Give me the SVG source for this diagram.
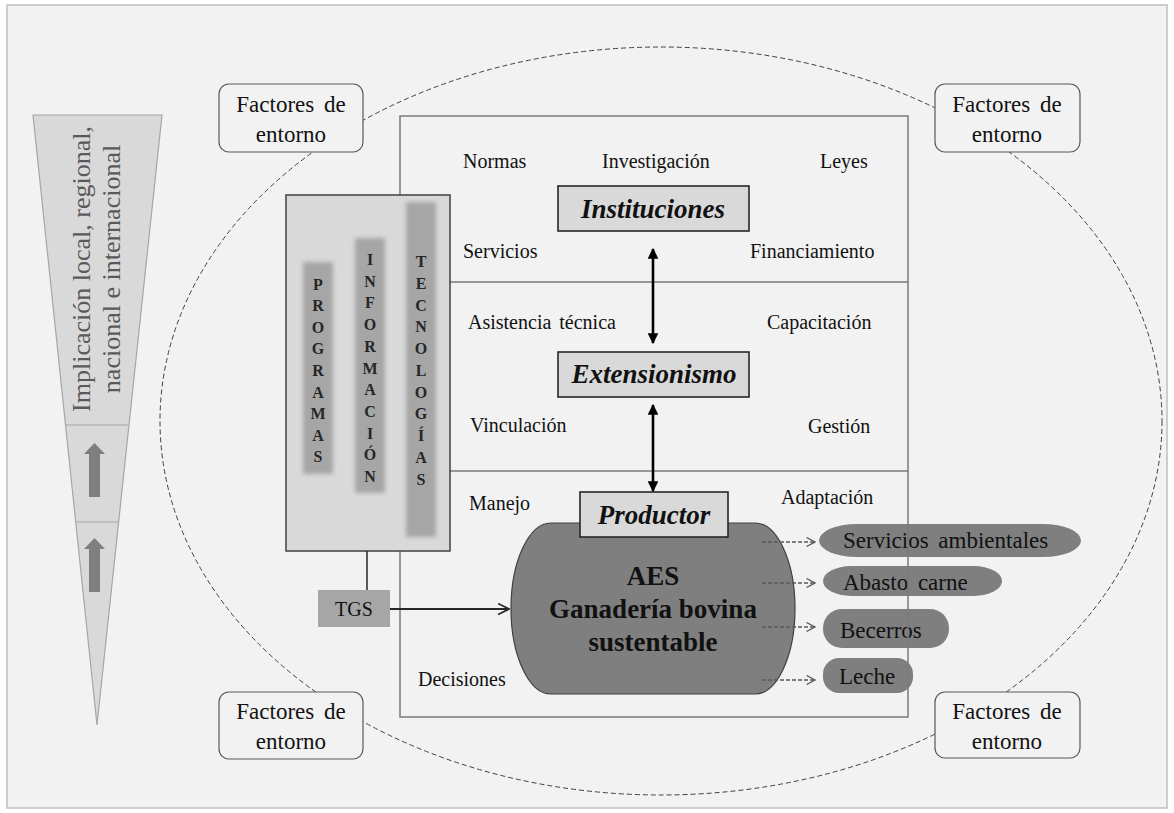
<svg xmlns="http://www.w3.org/2000/svg" width="1174" height="813" viewBox="0 0 1174 813">
  <style>
    text { font-family: 'Liberation Serif', 'Tinos', 'DejaVu Serif', 'Noto Serif', 'Times New Roman', Times, serif; }
    .lbl { font-size: 20px; fill: #111; }
    .fac { font-size: 23px; fill: #111; text-anchor: middle; word-spacing: 4px; }
    .facbox { fill: #f2f2f2; stroke: #595959; stroke-width: 1.2; }
    .title { font-size: 27px; font-weight: bold; font-style: italic; fill: #111; text-anchor: middle; }
    .tbox { fill: #d9d9d9; stroke: #262626; stroke-width: 1.6; }
    .bar { fill: #a6a6a6; filter: url(#soft); }
    .vlet { font-size: 16px; font-weight: bold; fill: #262626; text-anchor: middle; }
    .pill { fill: #7f7f7f; }
    .out { font-size: 23px; fill: #111; word-spacing: 4px; }
    .frame { fill: none; stroke: #7a7a7a; stroke-width: 1.5; }
    .dbl { stroke: #000; stroke-width: 2.6; fill: none; }
    .dash { stroke: #595959; stroke-width: 1.3; stroke-dasharray: 4 2; fill: none; }
  </style>
  <defs>
    <filter id="soft" x="-30%" y="-10%" width="160%" height="120%">
      <feGaussianBlur stdDeviation="2"/>
    </filter>
    <marker id="solidHead" viewBox="0 0 10 10" refX="9" refY="5" markerWidth="4.2" markerHeight="4.2" orient="auto-start-reverse" markerUnits="strokeWidth">
      <path d="M0,0 L10,5 L0,10 Z" fill="#000"/>
    </marker>
    <marker id="openHead" viewBox="0 0 10 10" refX="9.5" refY="5" markerWidth="10" markerHeight="10" orient="auto" markerUnits="userSpaceOnUse">
      <path d="M1,0.5 L9.5,5 L1,9.5" fill="none" stroke="#595959" stroke-width="1.3"/>
    </marker>
    <marker id="openHeadDark" viewBox="0 0 12 12" refX="11" refY="6" markerWidth="13" markerHeight="13" orient="auto" markerUnits="userSpaceOnUse">
      <path d="M1,1 L11,6 L1,11" fill="none" stroke="#262626" stroke-width="1.6"/>
    </marker>
  </defs>

  <!-- page background -->
  <rect x="7" y="5" width="1160" height="803" fill="#f2f2f2" stroke="#bfbfbf" stroke-width="1.5"/>

  <!-- dashed environment boundary -->
  <ellipse cx="661" cy="421" rx="501" ry="374" fill="none" stroke="#404040" stroke-width="1" stroke-dasharray="5 3"/>

  <!-- scale wedge -->
  <g id="scale-wedge">
    <polygon points="33,115 162,115 97,725" fill="#d9d9d9" stroke="#a6a6a6" stroke-width="1.2"/>
    <line x1="66" y1="425" x2="128" y2="425" stroke="#a6a6a6" stroke-width="1.2"/>
    <line x1="76" y1="522" x2="118" y2="522" stroke="#a6a6a6" stroke-width="1.2"/>
    <polygon points="94.5,443 105,454 100,454 100,497 89,497 89,454 84,454" fill="#7f7f7f"/>
    <polygon points="94.5,538 105,549 100,549 100,592 89,592 89,549 84,549" fill="#7f7f7f"/>
    <text font-size="26" fill="#595959" text-anchor="middle" transform="translate(90,269) rotate(-90)">Implicación local, regional,</text>
    <text font-size="26" fill="#595959" text-anchor="middle" transform="translate(120,269) rotate(-90)">nacional e internacional</text>
  </g>

  <!-- environment factor boxes -->
  <g id="factores-nw">
    <rect class="facbox" x="219" y="84" width="144" height="68" rx="10"/>
    <text class="fac" x="291" y="112">Factores de</text>
    <text class="fac" x="291" y="142">entorno</text>
  </g>
  <g id="factores-ne">
    <rect class="facbox" x="935" y="84" width="145" height="68" rx="10"/>
    <text class="fac" x="1007" y="112">Factores de</text>
    <text class="fac" x="1007" y="142">entorno</text>
  </g>
  <g id="factores-sw">
    <rect class="facbox" x="219" y="692" width="144" height="67" rx="10"/>
    <text class="fac" x="291" y="719">Factores de</text>
    <text class="fac" x="291" y="749">entorno</text>
  </g>
  <g id="factores-se">
    <rect class="facbox" x="935" y="692" width="145" height="66" rx="10"/>
    <text class="fac" x="1007" y="719">Factores de</text>
    <text class="fac" x="1007" y="749">entorno</text>
  </g>

  <!-- system outputs -->
  <g id="out-servicios">
    <rect class="pill" x="819" y="524" width="262" height="33" rx="38" ry="16.5"/>
    <text class="out" x="843" y="548">Servicios ambientales</text>
  </g>
  <g id="out-abasto">
    <rect class="pill" x="823" y="566" width="179" height="30" rx="28" ry="15"/>
    <text class="out" x="843" y="590">Abasto carne</text>
  </g>
  <g id="out-becerros">
    <rect class="pill" x="823" y="609" width="126" height="39" rx="19"/>
    <text class="out" x="840" y="638">Becerros</text>
  </g>
  <g id="out-leche">
    <rect class="pill" x="823" y="658" width="90" height="35" rx="16"/>
    <text class="out" x="839" y="684">Leche</text>
  </g>

  <!-- three-tier frame -->
  <g id="tiers">
    <rect class="frame" x="400" y="116" width="508" height="601"/>
    <line class="frame" x1="400" y1="282" x2="908" y2="282"/>
    <line class="frame" x1="400" y1="471" x2="908" y2="471"/>
  </g>

  <g id="tier-labels" class="lbl">
    <text class="lbl" x="463" y="168">Normas</text>
    <text class="lbl" x="602" y="168">Investigación</text>
    <text class="lbl" x="820" y="168">Leyes</text>
    <text class="lbl" x="463" y="258">Servicios</text>
    <text class="lbl" x="750" y="258">Financiamiento</text>
    <text class="lbl" x="468" y="329" word-spacing="3">Asistencia técnica</text>
    <text class="lbl" x="767" y="329">Capacitación</text>
    <text class="lbl" x="470" y="432">Vinculación</text>
    <text class="lbl" x="808" y="433">Gestión</text>
    <text class="lbl" x="469" y="510">Manejo</text>
    <text class="lbl" x="781" y="504">Adaptación</text>
    <text class="lbl" x="418" y="686">Decisiones</text>
  </g>

  <!-- programmes / information / technologies panel -->
  <g id="recursos">
    <rect x="286" y="195" width="164" height="356" fill="#d9d9d9" stroke="#404040" stroke-width="1.5"/>
    <rect class="bar" x="303" y="262" width="30" height="212"/>
    <rect class="bar" x="355" y="238" width="30" height="255"/>
    <rect class="bar" x="406" y="202" width="30" height="335"/>
    <text class="vlet">
      <tspan x="318" y="289.5">P</tspan><tspan x="318" y="311">R</tspan><tspan x="318" y="332.7">O</tspan><tspan x="318" y="354.3">G</tspan><tspan x="318" y="375.9">R</tspan><tspan x="318" y="397.5">A</tspan><tspan x="318" y="419.1">M</tspan><tspan x="318" y="440.7">A</tspan><tspan x="318" y="462.3">S</tspan>
    </text>
    <text class="vlet">
      <tspan x="370" y="265">I</tspan><tspan x="370" y="286.7">N</tspan><tspan x="370" y="308.4">F</tspan><tspan x="370" y="330.1">O</tspan><tspan x="370" y="351.8">R</tspan><tspan x="370" y="373.5">M</tspan><tspan x="370" y="395.2">A</tspan><tspan x="370" y="416.9">C</tspan><tspan x="370" y="438.6">I</tspan><tspan x="370" y="460.3">Ó</tspan><tspan x="370" y="482">N</tspan>
    </text>
    <text class="vlet">
      <tspan x="421" y="267">T</tspan><tspan x="421" y="288.8">E</tspan><tspan x="421" y="310.5">C</tspan><tspan x="421" y="332.3">N</tspan><tspan x="421" y="354.1">O</tspan><tspan x="421" y="375.8">L</tspan><tspan x="421" y="397.6">O</tspan><tspan x="421" y="419.4">G</tspan><tspan x="421" y="441.2">Í</tspan><tspan x="421" y="462.9">A</tspan><tspan x="421" y="484.7">S</tspan>
    </text>
  </g>

  <g id="tgs">
    <rect x="318" y="590" width="72" height="37" fill="#a6a6a6"/>
    <text font-size="20" fill="#111" text-anchor="middle" x="354" y="616">TGS</text>
  </g>

  <!-- agroecosystem -->
  <g id="aes">
    <path d="M551,523 H755 A40,85.5 0 0 1 755,694 H551 A40,85.5 0 0 1 551,523 Z" fill="#7f7f7f" stroke="#404040" stroke-width="1.2"/>
    <text font-size="27" font-weight="bold" fill="#111" text-anchor="middle" x="653" y="585">AES</text>
    <text font-size="27" font-weight="bold" fill="#111" text-anchor="middle" x="653" y="618">Ganadería bovina</text>
    <text font-size="27" font-weight="bold" fill="#111" text-anchor="middle" x="653" y="651">sustentable</text>
  </g>

  <g id="instituciones">
    <rect class="tbox" x="558" y="186" width="191" height="45"/>
    <text class="title" x="653" y="218">Instituciones</text>
  </g>
  <g id="extensionismo">
    <rect class="tbox" x="558" y="352" width="191" height="45"/>
    <text class="title" x="654" y="383">Extensionismo</text>
  </g>
  <g id="productor">
    <rect class="tbox" x="580" y="492" width="148" height="45"/>
    <text class="title" x="654" y="524">Productor</text>
  </g>

  <!-- connectors -->
  <g id="connectors">
    <line class="dbl" x1="653" y1="249" x2="653" y2="343" marker-start="url(#solidHead)" marker-end="url(#solidHead)"/>
    <line class="dbl" x1="653" y1="405" x2="653" y2="491" marker-start="url(#solidHead)" marker-end="url(#solidHead)"/>
    <line x1="367" y1="551" x2="367" y2="590" stroke="#262626" stroke-width="1.5"/>
    <line x1="390" y1="609" x2="509" y2="609" stroke="#262626" stroke-width="2" marker-end="url(#openHeadDark)"/>
    <line class="dash" x1="762" y1="542" x2="815" y2="542" marker-end="url(#openHead)"/>
    <line class="dash" x1="762" y1="583" x2="815" y2="583" marker-end="url(#openHead)"/>
    <line class="dash" x1="762" y1="627" x2="815" y2="627" marker-end="url(#openHead)"/>
    <line class="dash" x1="762" y1="680" x2="815" y2="680" marker-end="url(#openHead)"/>
  </g>
</svg>
